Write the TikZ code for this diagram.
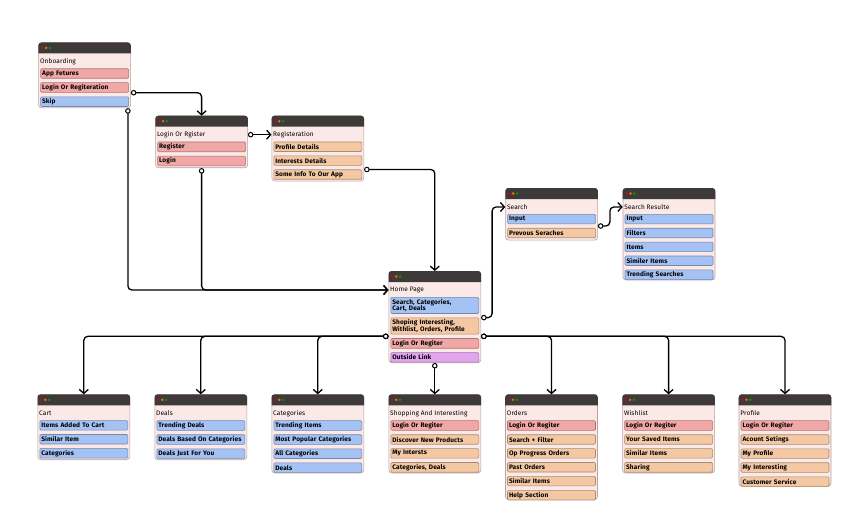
\documentclass[tikz,border=0pt]{standalone}
\usepackage{fontspec}
\setmainfont{Fira Sans}[LetterSpace=2]
\usetikzlibrary{positioning,arrows.meta,calc}
\hyphenpenalty=10000

\definecolor{bx}{HTML}{FBE9E7}
\definecolor{bxline}{HTML}{B9A2A2}
\definecolor{hd}{HTML}{3E3A3A}
\definecolor{cb}{HTML}{A4C2F4}
\definecolor{cr}{HTML}{F2A7A7}
\definecolor{co}{HTML}{F3C8A3}
\definecolor{cp}{HTML}{E2A3EF}

\tikzset{
  win/.style={draw=bxline, fill=bx, line width=0.6pt, rounded corners=3pt,
    minimum width=92pt, anchor=north west, inner sep=0pt},
  ttl/.style={anchor=west, inner sep=0.5pt, font=\fontsize{6.5}{7}\selectfont},
  it/.style={draw=#1!70!black, fill=#1, line width=0.6pt, rounded corners=1.2pt,
    text width=85pt, minimum height=9.5pt, inner xsep=1.5pt, inner ysep=1.5pt,
    align=left, anchor=north west, font=\fontsize{6.5}{6.8}\selectfont\bfseries},
  con/.style={line width=1.3pt, rounded corners=4pt,
    {Circle[open,fill=white,length=5.5pt,width=5.5pt,line width=1pt]}-{Straight Barb[length=4pt,width=9pt]}}
}

% window: name, x, y, height, title
\newcommand\win[5]{%
  \node[win, minimum height=#4pt] (#1) at (#2,#3) {};
  \fill[hd] ([yshift=-11pt]#1.north west) [rounded corners=3pt] -- (#1.north west)
    -- (#1.north east) [sharp corners] -- ([yshift=-11pt]#1.north east) -- cycle;
  \fill[red!85!black] ([shift={(4,5.5)}]#1.north west) circle (1.4pt);
  \fill[orange!90!black] ([shift={(7.8,5.5)}]#1.north west) circle (1.4pt);
  \fill[green!60!black] ([shift={(11.6,5.5)}]#1.north west) circle (1.4pt);
  \node[ttl] (#1t) at ([shift={(1,19)}]#1.north west) {#5};
}

\begin{document}
\begin{tikzpicture}[x=1pt, y=-1pt]
  \useasboundingbox (0,0) rectangle (865,524);

  \win{ob}{38.3}{42.5}{65.1}{Onboarding}
  \node[it=cr] (ob1) at ([shift={(2,26)}]ob.north west) {App Fetures};
  \node[it=cr, below=3.8pt of ob1] (ob2) {Login Or Regiteration};
  \node[it=cb, below=3.8pt of ob2] (ob3) {Skip};

  \win{lr}{155.3}{115.7}{51.8}{Login Or Rgister}
  \node[it=cr] (lr1) at ([shift={(2,26)}]lr.north west) {Register};
  \node[it=cr, below=3.8pt of lr1] (lr2) {Login};

  \win{rg}{271.5}{115.7}{65.1}{Registeration}
  \node[it=co] (rg1) at ([shift={(2,26)}]rg.north west) {Profile Details};
  \node[it=co, below=3.8pt of rg1] (rg2) {Interests Details};
  \node[it=co, below=3.8pt of rg2] (rg3) {Some Info To Our App};

  \win{hp}{388.5}{271}{91.4}{Home Page}
  \node[it=cb] (hp1) at ([shift={(2,26)}]hp.north west) {Search, Categories,\\Cart, Deals};
  \node[it=co, below=3.8pt of hp1] (hp2) {Shoping Interesting,\\Withlist, Orders, Profile};
  \node[it=cr, below=3.8pt of hp2] (hp3) {Login Or Regiter};
  \node[it=cp, below=3.8pt of hp3] (hp4) {Outside Link};

  \win{sr}{505.3}{188}{51.8}{Search}
  \node[it=cb] (sr1) at ([shift={(2,26)}]sr.north west) {Input};
  \node[it=co, below=3.8pt of sr1] (sr2) {Prevous Seraches};

  \win{rs}{622.7}{188}{91.7}{Search Resulte}
  \node[it=cb] (rs1) at ([shift={(2,26)}]rs.north west) {Input};
  \node[it=cb, below=3.8pt of rs1] (rs2) {Filters};
  \node[it=cb, below=3.8pt of rs2] (rs3) {Items};
  \node[it=cb, below=3.8pt of rs3] (rs4) {Similer Items};
  \node[it=cb, below=3.8pt of rs4] (rs5) {Trending Searches};

  % bottom row
  \win{ct}{37.5}{394.3}{65.1}{Cart}
  \node[it=cb] (ct1) at ([shift={(2,26)}]ct.north west) {Items Added To Cart};
  \node[it=cb, below=3.8pt of ct1] (ct2) {Similar Item};
  \node[it=cb, below=3.8pt of ct2] (ct3) {Categories};

  \win{dl}{154.5}{394.3}{65.1}{Deals}
  \node[it=cb] (dl1) at ([shift={(2,26)}]dl.north west) {Trending Deals};
  \node[it=cb, below=3.8pt of dl1] (dl2) {Deals Based On Categories};
  \node[it=cb, below=3.8pt of dl2] (dl3) {Deals Just For You};

  \win{cg}{271.5}{394.3}{78.4}{Categories}
  \node[it=cb] (cg1) at ([shift={(2,26)}]cg.north west) {Trending Items};
  \node[it=cb, below=3.8pt of cg1] (cg2) {Most Popular Categories};
  \node[it=cb, below=3.8pt of cg2] (cg3) {All Categories};
  \node[it=cb, below=3.8pt of cg3] (cg4) {Deals};

  \win{sh}{388.5}{394.3}{78.4}{Shopping And Interesting}
  \node[it=cr] (sh1) at ([shift={(2,26)}]sh.north west) {Login Or Regiter};
  \node[it=co, below=3.8pt of sh1] (sh2) {Discover New Products};
  \node[it=co, below=3.8pt of sh2] (sh3) {My Intersts};
  \node[it=co, below=3.8pt of sh3] (sh4) {Categories, Deals};

  \win{od}{505.2}{394.3}{105}{Orders}
  \node[it=cr] (od1) at ([shift={(2,26)}]od.north west) {Login Or Regiter};
  \node[it=co, below=3.8pt of od1] (od2) {Search + Filter};
  \node[it=co, below=3.8pt of od2] (od3) {Op Progress Orders};
  \node[it=co, below=3.8pt of od3] (od4) {Past Orders};
  \node[it=co, below=3.8pt of od4] (od5) {Similar Items};
  \node[it=co, below=3.8pt of od5] (od6) {Help Section};

  \win{wl}{622.3}{394.3}{78.4}{Wishlist}
  \node[it=cr] (wl1) at ([shift={(2,26)}]wl.north west) {Login Or Regiter};
  \node[it=co, below=3.8pt of wl1] (wl2) {Your Saved Items};
  \node[it=co, below=3.8pt of wl2] (wl3) {Similar Items};
  \node[it=co, below=3.8pt of wl3] (wl4) {Sharing};

  \win{pf}{738.7}{394.3}{91.7}{Profile}
  \node[it=cr] (pf1) at ([shift={(2,26)}]pf.north west) {Login Or Regiter};
  \node[it=co, below=3.8pt of pf1] (pf2) {Acount Setings};
  \node[it=co, below=3.8pt of pf2] (pf3) {My Profile};
  \node[it=co, below=3.8pt of pf3] (pf4) {My Interesting};
  \node[it=co, below=3.8pt of pf4] (pf5) {Customer Service};

  \coordinate (sx) at ($(sr1.south)!0.5!(sr2.north)$);
  \coordinate (hx) at ($(hp2.south)!0.5!(hp3.north)$);
  \coordinate (bl) at (hx -| hp.west);
  \coordinate (br) at (hx -| hp.east);

  \begin{scope}[con]
    \draw (ob2.south -| ob.east) -| (lr.north);
    \draw ([xshift=-3pt]ob.south east) |- (hpt -| hp.west);
    \draw (lr.south) |- (hpt -| hp.west);
    \draw (lrt -| lr.east) -- (lrt -| rg.west);
    \draw (rg3.north -| rg.east) -| (hp.north);
    \draw (hp2.north -| hp.east) -- ++(11,0) |- (srt -| sr.west);
    \draw (sx -| sr.east) -- ++(12,0) |- (rst -| rs.west);
    \draw (bl) -| (ct.north);
    \draw (bl) -| (dl.north);
    \draw (bl) -| (cg.north);
    \draw (hp.south) -- (sh.north);
    \draw (br) -| (od.north);
    \draw (br) -| (wl.north);
    \draw (br) -| (pf.north);
  \end{scope}
\end{tikzpicture}
\end{document}
